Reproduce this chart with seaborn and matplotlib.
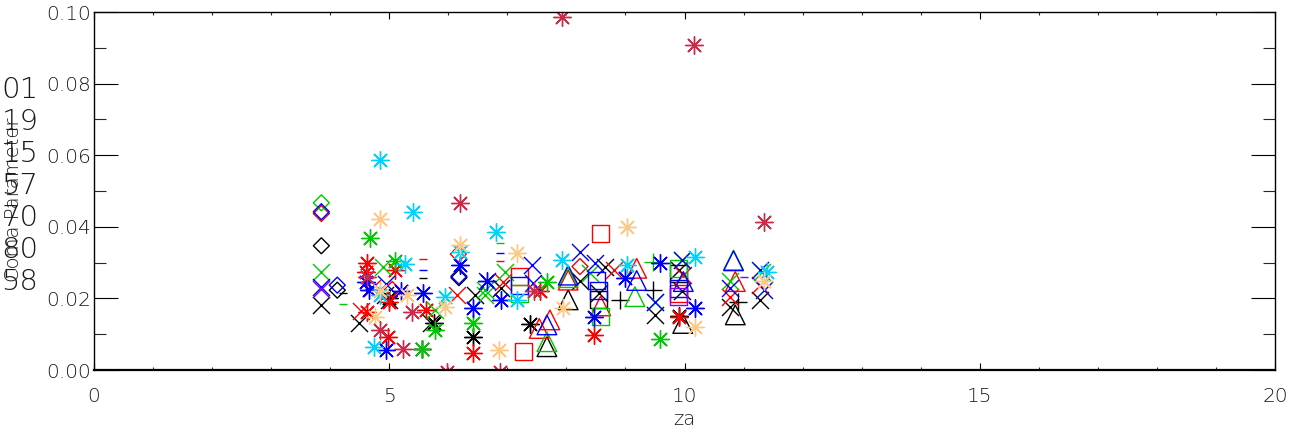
import matplotlib
matplotlib.use("Agg")
import matplotlib.pyplot as plt
import seaborn as sns
import numpy as np

# ---------------- data ----------------
X_TICKS = [0, 5, 10, 15, 20]
X_TICK_LABELS = ["0", "5", "10", "15", "20"]
Y_TICKS = [0.00, 0.02, 0.04, 0.06, 0.08, 0.10]
Y_TICK_LABELS = ["0.00", "0.02", "0.04", "0.06", "0.08", "0.10"]
X_LABEL = "za"
Y_LABEL = "Coma Parameter"
SIDE_NUMBERS = ["01", "19", "15", "57", "70", "80", "58"]

# black
BLACK_DIAMOND_X = [3.85, 4.12, 6.18]
BLACK_DIAMOND_Y = [0.0347, 0.0223, 0.0258]
BLACK_CROSS_X = [3.85, 4.48, 4.93, 5.00, 5.70, 6.90, 8.23, 8.65, 8.55, 9.50, 9.95, 9.90, 10.77, 11.28, 6.45]
BLACK_CROSS_Y = [0.0182, 0.0130, 0.0210, 0.0195, 0.0130, 0.0230, 0.0250, 0.0289, 0.0214, 0.0154, 0.0220, 0.0280, 0.0177, 0.0196, 0.0210]
BLACK_PLUS_X = [8.91, 9.47, 10.91]
BLACK_PLUS_Y = [0.0196, 0.0223, 0.0190]
BLACK_STAR_X = [5.55, 5.75, 6.41, 7.38, 9.90, 5.00]
BLACK_STAR_Y = [0.0060, 0.0130, 0.0093, 0.0128, 0.0150, 0.0200]
BLACK_TRI_X = [8.03, 7.67, 10.86, 9.97]
BLACK_TRI_Y = [0.0196, 0.0065, 0.0154, 0.0130]
BLACK_SQUARE_X = [8.54, 9.90]
BLACK_SQUARE_Y = [0.0197, 0.0270]
BLACK_DASH_X = [5.57, 4.22]
BLACK_DASH_Y = [0.0258, 0.0215]

# red
RED_DIAMOND_X = [3.85, 6.17, 8.23, 5.05]
RED_DIAMOND_Y = [0.0437, 0.0324, 0.0289, 0.0225]
RED_STAR_X = [4.62, 4.60, 4.62, 4.98, 5.63, 6.41, 8.46, 9.90, 7.55, 5.10, 5.00]
RED_STAR_Y = [0.0298, 0.0275, 0.0163, 0.0093, 0.0168, 0.0047, 0.0098, 0.0149, 0.0220, 0.0280, 0.0190]
RED_CROSS_X = [6.14, 6.92, 8.80, 9.98, 10.77, 11.28, 4.70, 4.52]
RED_CROSS_Y = [0.0210, 0.0247, 0.0279, 0.0265, 0.0205, 0.0237, 0.0230, 0.0165]
RED_TRI_X = [7.72, 7.54, 8.58, 9.19, 10.86, 8.03]
RED_TRI_Y = [0.0140, 0.0116, 0.0179, 0.0284, 0.0247, 0.0251]
RED_SQUARE_X = [8.58, 7.28, 7.21, 9.90]
RED_SQUARE_Y = [0.0382, 0.0051, 0.0260, 0.0214]
RED_DASH_X = [5.57, 6.88]
RED_DASH_Y = [0.0310, 0.0305]

# green
GREEN_DIAMOND_X = [3.85]
GREEN_DIAMOND_Y = [0.0467]
GREEN_CROSS_X = [3.85, 4.90, 5.77, 6.62, 6.96, 8.40, 9.50, 9.95, 10.77, 11.32, 6.62]
GREEN_CROSS_Y = [0.0275, 0.0287, 0.0168, 0.0223, 0.0275, 0.0270, 0.0191, 0.0307, 0.0250, 0.0275, 0.0210]
GREEN_STAR_X = [4.67, 5.10, 5.55, 5.77, 6.41, 7.67, 9.58]
GREEN_STAR_Y = [0.0369, 0.0304, 0.0060, 0.0112, 0.0130, 0.0247, 0.0086]
GREEN_TRI_X = [8.03, 7.67, 9.16, 10.83]
GREEN_TRI_Y = [0.0258, 0.0079, 0.0205, 0.0307]
GREEN_SQUARE_X = [8.58, 9.90, 7.21]
GREEN_SQUARE_Y = [0.0149, 0.0284, 0.0215]
GREEN_PLUS_X = [9.47]
GREEN_PLUS_Y = [0.0303]
GREEN_DASH_X = [4.22, 6.88]
GREEN_DASH_Y = [0.0184, 0.0355]

# blue
BLUE_DIAMOND_X = [3.85, 4.12, 6.18]
BLUE_DIAMOND_Y = [0.0442, 0.0237, 0.0262]
BLUE_CROSS_X = [3.85, 7.41, 8.23, 8.48, 9.50, 9.95, 10.77, 11.28, 11.35, 6.65, 7.44, 4.95]
BLUE_CROSS_Y = [0.0233, 0.0293, 0.0330, 0.0298, 0.0190, 0.0307, 0.0228, 0.0279, 0.0223, 0.0250, 0.0243, 0.0240]
BLUE_STAR_X = [4.65, 4.94, 5.58, 6.19, 6.42, 6.65, 6.90, 8.46, 8.99, 9.58, 10.18, 4.60, 5.20]
BLUE_STAR_Y = [0.0223, 0.0056, 0.0214, 0.0293, 0.0172, 0.0250, 0.0196, 0.0149, 0.0256, 0.0298, 0.0172, 0.0245, 0.0220]
BLUE_TRI_X = [8.03, 7.67, 9.19, 9.98, 10.83]
BLUE_TRI_Y = [0.0265, 0.0126, 0.0250, 0.0247, 0.0305]
BLUE_SQUARE_X = [7.21, 8.51, 8.54, 9.90]
BLUE_SQUARE_Y = [0.0237, 0.0250, 0.0223, 0.0228]
BLUE_DASH_X = [5.57, 6.88]
BLUE_DASH_Y = [0.0280, 0.0328]

# cyan
CYAN_STAR_X = [4.84, 5.41, 6.81, 7.92, 9.02, 10.18, 11.39, 5.26, 4.74, 5.94, 7.16, 6.19, 4.85]
CYAN_STAR_Y = [0.0587, 0.0440, 0.0386, 0.0307, 0.0293, 0.0317, 0.0275, 0.0296, 0.0065, 0.0205, 0.0196, 0.0330, 0.0210]

# orange
ORANGE_STAR_X = [4.84, 6.19, 7.17, 9.02, 4.76, 5.94, 7.95, 6.86, 10.18, 11.35, 5.30, 4.85]
ORANGE_STAR_Y = [0.0422, 0.0349, 0.0326, 0.0399, 0.0149, 0.0177, 0.0172, 0.0056, 0.0121, 0.0250, 0.0210, 0.0220]

# crimson
CRIMSON_STAR_X = [7.93, 10.16, 11.35, 6.19, 4.84, 5.24, 5.38, 5.97, 6.87, 4.62, 7.45]
CRIMSON_STAR_Y = [0.0986, 0.0908, 0.0414, 0.0466, 0.0112, 0.0060, 0.0163, -0.0005, -0.0005, 0.0260, 0.0220]

# purple
PURPLE_SQUARE_X = [9.90]
PURPLE_SQUARE_Y = [0.0205]
PURPLE_DASH_X = [11.00]
PURPLE_DASH_Y = [0.0260]
PURPLE_CROSS_X = [3.85]
PURPLE_CROSS_Y = [0.0225]

# ---------------- styling ----------------
C_BLACK = "#000000"
C_RED = "#ff0000"
C_GREEN = "#00c800"
C_BLUE = "#0000ff"
C_CYAN = "#00d2ff"
C_ORANGE = "#ffc882"
C_CRIMSON = "#d02848"
C_PURPLE = "#8000ff"

STAR = (8, 2, 0)
# marker: (path, size s, outline-only filled marker?)
MK = {
    "star": (STAR, 160, False),
    "cross": ("x", 150, False),
    "plus": ("+", 150, False),
    "dash": ("_", 40, False),
    "diamond": ("D", 66, True),
    "tri": ("^", 200, True),
    "square": ("s", 150, True),
}

series = [
    (BLACK_DIAMOND_X, BLACK_DIAMOND_Y, C_BLACK, "diamond"),
    (BLACK_CROSS_X, BLACK_CROSS_Y, C_BLACK, "cross"),
    (BLACK_PLUS_X, BLACK_PLUS_Y, C_BLACK, "plus"),
    (BLACK_STAR_X, BLACK_STAR_Y, C_BLACK, "star"),
    (BLACK_TRI_X, BLACK_TRI_Y, C_BLACK, "tri"),
    (BLACK_SQUARE_X, BLACK_SQUARE_Y, C_BLACK, "square"),
    (BLACK_DASH_X, BLACK_DASH_Y, C_BLACK, "dash"),
    (RED_DIAMOND_X, RED_DIAMOND_Y, C_RED, "diamond"),
    (RED_STAR_X, RED_STAR_Y, C_RED, "star"),
    (RED_CROSS_X, RED_CROSS_Y, C_RED, "cross"),
    (RED_TRI_X, RED_TRI_Y, C_RED, "tri"),
    (RED_SQUARE_X, RED_SQUARE_Y, C_RED, "square"),
    (RED_DASH_X, RED_DASH_Y, C_RED, "dash"),
    (GREEN_DIAMOND_X, GREEN_DIAMOND_Y, C_GREEN, "diamond"),
    (GREEN_CROSS_X, GREEN_CROSS_Y, C_GREEN, "cross"),
    (GREEN_STAR_X, GREEN_STAR_Y, C_GREEN, "star"),
    (GREEN_TRI_X, GREEN_TRI_Y, C_GREEN, "tri"),
    (GREEN_SQUARE_X, GREEN_SQUARE_Y, C_GREEN, "square"),
    (GREEN_PLUS_X, GREEN_PLUS_Y, C_GREEN, "plus"),
    (GREEN_DASH_X, GREEN_DASH_Y, C_GREEN, "dash"),
    (BLUE_DIAMOND_X, BLUE_DIAMOND_Y, C_BLUE, "diamond"),
    (BLUE_CROSS_X, BLUE_CROSS_Y, C_BLUE, "cross"),
    (BLUE_STAR_X, BLUE_STAR_Y, C_BLUE, "star"),
    (BLUE_TRI_X, BLUE_TRI_Y, C_BLUE, "tri"),
    (BLUE_SQUARE_X, BLUE_SQUARE_Y, C_BLUE, "square"),
    (BLUE_DASH_X, BLUE_DASH_Y, C_BLUE, "dash"),
    (CYAN_STAR_X, CYAN_STAR_Y, C_CYAN, "star"),
    (ORANGE_STAR_X, ORANGE_STAR_Y, C_ORANGE, "star"),
    (CRIMSON_STAR_X, CRIMSON_STAR_Y, C_CRIMSON, "star"),
    (PURPLE_SQUARE_X, PURPLE_SQUARE_Y, C_PURPLE, "square"),
    (PURPLE_DASH_X, PURPLE_DASH_Y, C_PURPLE, "dash"),
    (PURPLE_CROSS_X, PURPLE_CROSS_Y, C_PURPLE, "cross"),
]

sns.set_theme(style="white")
plt.rcParams["font.family"] = ["DejaVu Sans"]

W, H = 1291, 432
fig = plt.figure(figsize=(W / 100, H / 100), dpi=100)
ax = fig.add_axes([94 / W, 1 - 370 / H, (1275 - 94) / W, (370 - 12) / H])

LW = 1.0
for xs, ys, col, mk in series:
    m, s, outline = MK[mk]
    if outline:
        sns.scatterplot(x=xs, y=ys, ax=ax, marker=m, s=s, color=col,
                        facecolor="none", edgecolor=col, linewidth=LW, legend=False)
    else:
        sns.scatterplot(x=xs, y=ys, ax=ax, marker=m, s=s, color=col,
                        linewidth=LW, legend=False)

ax.set_xlim(0, 20)
ax.set_ylim(0, 0.10)
ax.set_xticks(X_TICKS)
ax.set_xticklabels(X_TICK_LABELS)
ax.set_yticks(Y_TICKS)
ax.set_yticklabels(Y_TICK_LABELS)
ax.set_xticks(np.arange(0, 21, 1), minor=True)
ax.set_yticks(np.arange(0, 0.101, 0.01), minor=True)

for sp in ax.spines.values():
    sp.set_visible(True)
    sp.set_color("black")
    sp.set_linewidth(1.0)
ax.spines["bottom"].set_linewidth(1.6)

TXT = "#1a1a1a"
ax.tick_params(axis="x", which="major", direction="in", length=5, width=0.8,
               top=True, bottom=True, labelsize=14.5, colors="black", labelcolor=TXT, pad=12)
ax.tick_params(axis="x", which="minor", direction="in", length=2.5, width=0.8,
               top=True, bottom=True)
ax.tick_params(axis="y", which="major", direction="in", length=17, width=0.8,
               left=True, right=True, labelsize=14.5, colors="black", labelcolor=TXT, pad=2)
ax.tick_params(axis="y", which="minor", direction="in", length=8.5, width=0.8,
               left=True, right=True)
for lab in ax.get_xticklabels() + ax.get_yticklabels():
    lab.set_fontweight("light")

ax.set_xlabel(X_LABEL, fontsize=14, color=TXT, fontweight="light", labelpad=3)
ax.set_ylabel("")

# rotated y label and the column of numbers overlapping it
fig.text(14 / W, 1 - 200 / H, Y_LABEL, rotation=90, ha="center", va="center",
         fontsize=14, color=TXT, fontweight="light")
for i, t in enumerate(SIDE_NUMBERS):
    fig.text(20 / W, 1 - (90 + 32 * i) / H, t, ha="center", va="center",
             fontsize=21, color=TXT, fontweight="light")

fig.savefig("out.png", dpi=100)
